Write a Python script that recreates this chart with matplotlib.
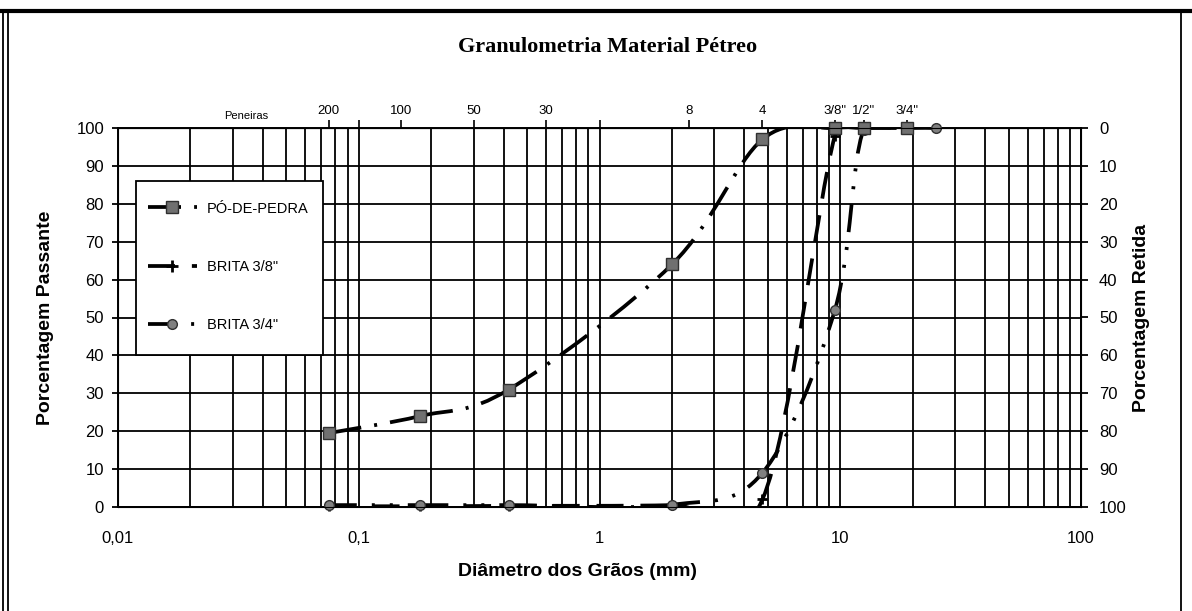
import numpy as np
import matplotlib
matplotlib.use("Agg")
import matplotlib.pyplot as plt
from matplotlib.path import Path
from matplotlib.patches import PathPatch, Rectangle
from matplotlib.lines import Line2D
from matplotlib.ticker import FixedLocator, NullFormatter, LogLocator

plt.rcParams["font.family"] = ["Liberation Sans", "DejaVu Sans"]

# sieve openings (mm) used in the test
sizes = [0.075, 0.18, 0.42, 2.0, 4.75, 9.5, 12.5, 19.0, 25.0]
po_pedra = [19.5, 24, 31, 64, 97, 100, 100, 100]
brita_38 = [0.2, 0.2, 0.3, 0.5, 2, 98, 100, 100]
brita_34 = [0.5, 0.5, 0.5, 0.6, 9, 52, 99.5, 100, 100]

series_names = ["PÓ-DE-PEDRA", 'BRITA 3/8"', 'BRITA 3/4"']

# top axis: sieve numbers
sieve_pos = [0.075, 0.15, 0.3, 0.6, 2.36, 4.75, 9.5, 12.5, 19.0]
sieve_labels = ["200", "100", "50", "30", "8", "4", '3/8"', '1/2"', '3/4"']

x_ticks = [0.01, 0.1, 1, 10, 100]
x_tick_labels = ["0,01", "0,1", "1", "10", "100"]
y_ticks = list(range(0, 101, 10))

LW = 2.7
DASH_PO = (0, (8.8, 3.5, 0.8, 3.5))
DASH_38 = (0, (7.2, 4.5))
DASH_34 = (0, (7.5, 4, 0.8, 4, 0.8, 4))


def smooth_line(ax, xs, ys, dashes):
    # excel-like smoothed line, every segment starts its own dash pattern
    lx = np.log10(xs)
    y = np.asarray(ys, dtype=float)
    n = len(lx)
    for i in range(n - 1):
        a = max(i - 1, 0)
        b = min(i + 2, n - 1)
        c1 = (lx[i] + (lx[i + 1] - lx[a]) / 6, y[i] + (y[i + 1] - y[a]) / 6)
        c2 = (lx[i + 1] - (lx[b] - lx[i]) / 6, y[i + 1] - (y[b] - y[i]) / 6)
        verts = [(xs[i], y[i]), (10 ** c1[0], c1[1]),
                 (10 ** c2[0], c2[1]), (xs[i + 1], y[i + 1])]
        path = Path(verts, [Path.MOVETO, Path.CURVE4, Path.CURVE4, Path.CURVE4])
        ax.add_patch(PathPatch(path, fill=False, lw=LW, ec="black",
                               linestyle=dashes, capstyle="butt", zorder=3))


fig = plt.figure(figsize=(11.92, 6.11), dpi=100)
ax = fig.add_axes([118 / 1192, 1 - 507 / 611, 963 / 1192, 379 / 611])
ax.set_xscale("log")
ax.set_xlim(0.01, 100)
ax.set_ylim(0, 100)

smooth_line(ax, sizes[:len(po_pedra)], po_pedra, DASH_PO)
smooth_line(ax, sizes[:len(brita_38)], brita_38, DASH_38)
smooth_line(ax, sizes, brita_34, DASH_34)

ax.plot(sizes[:len(brita_38)], brita_38, ls="none", marker="+", ms=6.5, mew=2,
        color="black", clip_on=False, zorder=4)
ax.plot(sizes, brita_34, ls="none", marker="o", ms=7, mfc="#808080",
        mec="#303030", mew=1, clip_on=False, zorder=5)
ax.plot(sizes[:len(po_pedra)], po_pedra, ls="none", marker="s", ms=8,
        mfc="#707070", mec="#303030", mew=1, clip_on=False, zorder=6)

# grid
ax.xaxis.set_major_locator(FixedLocator(x_ticks))
ax.set_xticklabels(x_tick_labels)
ax.xaxis.set_minor_locator(LogLocator(base=10, subs=np.arange(2, 10)))
ax.xaxis.set_minor_formatter(NullFormatter())
ax.set_yticks(y_ticks)
ax.grid(True, which="both", axis="x", color="black", lw=1.3)
ax.grid(True, which="major", axis="y", color="black", lw=1.3)
ax.tick_params(axis="x", which="both", length=0, pad=17, labelsize=12)
ax.tick_params(axis="y", direction="out", length=4, width=1.3, pad=6, labelsize=12)
for s in ax.spines.values():
    s.set_linewidth(1.4)

ax2 = ax.twinx()
ax2.set_ylim(100, 0)
ax2.set_yticks(y_ticks)
ax2.tick_params(axis="y", direction="out", length=5, width=1.3, pad=8, labelsize=12)

top = ax.secondary_xaxis("top")
top.set_xticks(sieve_pos, labels=sieve_labels)
top.xaxis.set_minor_locator(FixedLocator([0.1, 1]))
top.xaxis.set_minor_formatter(NullFormatter())
top.tick_params(which="both", direction="out", length=6, width=1.2, pad=2, labelsize=9.5)
ax.text(0.034, 101.8, "Peneiras", ha="center", va="bottom", fontsize=8)

# legend box and entries
ax.add_patch(Rectangle((0.0187, 0.401), 0.1942, 0.459, transform=ax.transAxes,
                       fc="white", ec="black", lw=1.3, zorder=9))
handles = [
    Line2D([], [], color="black", lw=LW, linestyle=DASH_PO, marker="s", ms=8,
           mfc="#707070", mec="#303030"),
    Line2D([], [], color="black", lw=LW, linestyle=DASH_38, marker="+", ms=8, mew=2),
    Line2D([], [], color="black", lw=LW, linestyle=DASH_34, marker="o", ms=7,
           mfc="#808080", mec="#303030"),
]
leg = ax.legend(handles, series_names, loc="upper left", bbox_to_anchor=(0.031, 0.806),
                fontsize=10.5, labelspacing=3.05, borderpad=0, handlelength=3.36,
                handletextpad=0.68, frameon=False, numpoints=1, borderaxespad=0)
leg.set_zorder(10)

fig.text(608 / 1192, 1 - 47 / 611, "Granulometria Material Pétreo", ha="center",
         va="center", fontsize=16, fontweight="bold", family="Liberation Serif")
fig.text(46 / 1192, 1 - 318 / 611, "Porcentagem Passante", rotation=90, ha="center",
         va="center", fontsize=14, fontweight="bold")
fig.text(1141 / 1192, 1 - 318 / 611, "Porcentagem Retida", rotation=90, ha="center",
         va="center", fontsize=14, fontweight="bold")
fig.text(577 / 1192, 1 - 571 / 611, "Diâmetro dos Grãos (mm)", ha="center",
         va="center", fontsize=14, fontweight="bold")

# scanned page frame
fig.add_artist(Line2D([0, 1], [1 - 11 / 611] * 2, transform=fig.transFigure, lw=3, color="black"))
for xp in (3, 8):
    fig.add_artist(Line2D([xp / 1192] * 2, [0, 1 - 11 / 611], transform=fig.transFigure,
                          lw=1.3, color="black"))
fig.add_artist(Line2D([1181 / 1192] * 2, [0, 1 - 11 / 611], transform=fig.transFigure,
                      lw=1.3, color="black"))

fig.savefig("out.png", dpi=100)
